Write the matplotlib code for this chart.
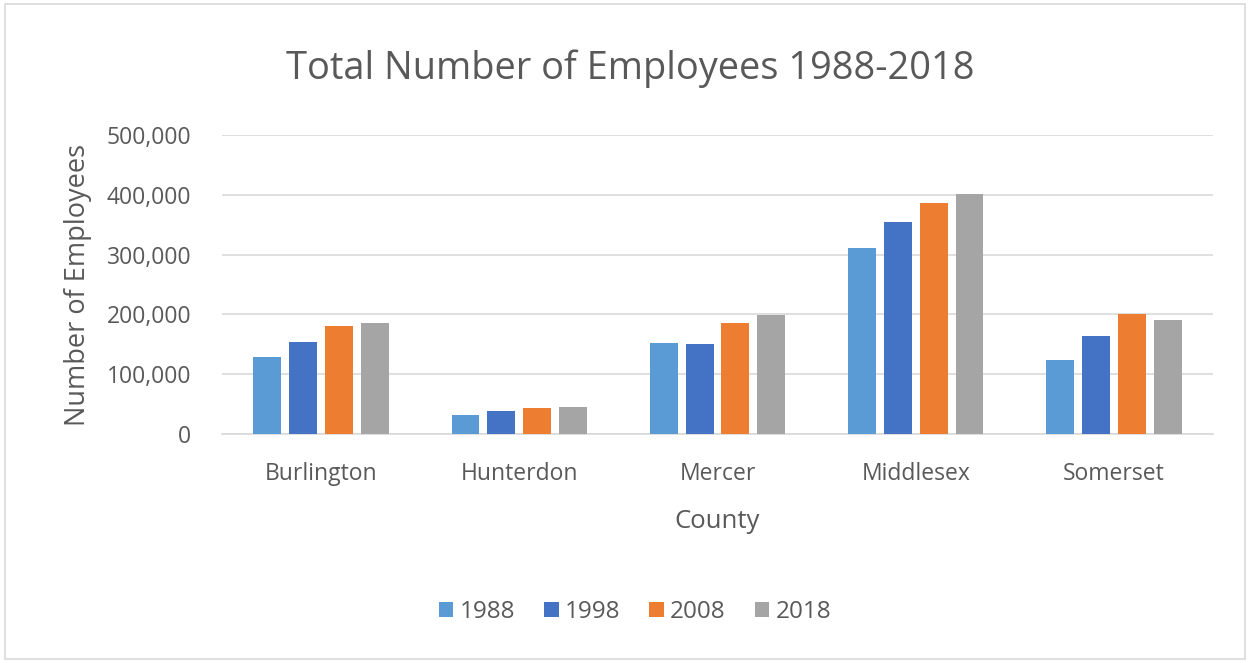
import matplotlib.pyplot as plt
from matplotlib.ticker import FuncFormatter
from matplotlib.patches import Rectangle
import numpy as np

plt.rcParams['font.family'] = ['Open Sans', 'DejaVu Sans']

counties = ['Burlington', 'Hunterdon', 'Mercer', 'Middlesex', 'Somerset']
years = ['1988', '1998', '2008', '2018']
emp_1988 = [128000, 32000, 153000, 311000, 123000]
emp_1998 = [154000, 39000, 150000, 355000, 164000]
emp_2008 = [181000, 43500, 185000, 387000, 201000]
emp_2018 = [185000, 44500, 199000, 402000, 190000]
colors = ['#5B9BD5', '#4472C4', '#ED7D31', '#A5A5A5']

text_col = '#595959'

fig = plt.figure(figsize=(12.5, 6.63), dpi=100)
ax = fig.add_axes([0.1776, 0.3454, 0.7928, 0.451])

x = np.arange(len(counties))
step = 0.181
width = 0.141
for k, (vals, yr) in enumerate(zip([emp_1988, emp_1998, emp_2008, emp_2018], years)):
  ax.bar(x + (k - 1.5) * step, vals, width, color=colors[k], label=yr, zorder=3)

ax.set_xlim(-0.5, len(counties) - 0.5)
ax.set_ylim(0, 500000)
ax.set_yticks(np.arange(0, 500001, 100000))
ax.yaxis.set_major_formatter(FuncFormatter(lambda v, p: '{:,.0f}'.format(v)))
ax.set_xticks(x)
ax.set_xticklabels(counties)
ax.grid(axis='y', color='#d9d9d9', linewidth=1.2, zorder=0)
for s in ['top', 'right', 'left']:
  ax.spines[s].set_visible(False)
ax.spines['bottom'].set_color('#d9d9d9')
ax.spines['bottom'].set_linewidth(1.2)
ax.tick_params(axis='both', length=0, labelsize=16.5, labelcolor=text_col)
ax.tick_params(axis='x', pad=20)
ax.tick_params(axis='y', pad=22)

ax.set_xlabel('County', fontsize=18.5, color=text_col, labelpad=17)
ax.set_ylabel('Number of Employees', fontsize=19.5, color=text_col, labelpad=11)

fig.text(0.504, 0.897, 'Total Number of Employees 1988-2018', fontsize=27.4,
         color=text_col, ha='center', va='center')

ax.legend(loc='center', bbox_to_anchor=(0.508, 0.077), bbox_transform=fig.transFigure,
          ncol=4, frameon=False, fontsize=17.5, handlelength=0.6, handleheight=0.6,
          handletextpad=0.25, columnspacing=1.2, labelcolor=text_col)

fig.patches.append(Rectangle((0.004, 0.006), 0.992, 0.988, transform=fig.transFigure,
                             fill=False, edgecolor='#d9d9d9', linewidth=1.2))

fig.savefig('out.png', dpi=100)
